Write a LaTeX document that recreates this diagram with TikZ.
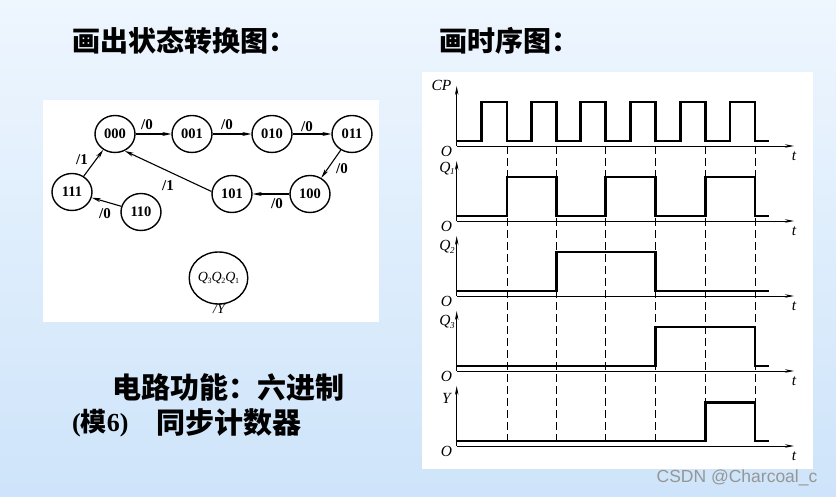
\documentclass[tikz,border=0pt]{standalone}
\usepackage{fontspec}
\setmainfont{Liberation Serif}
\newfontfamily\cjk{Noto Sans CJK SC}
\newfontfamily\wmfont{Liberation Sans}
\usetikzlibrary{arrows.meta,shapes.geometric}
\definecolor{bgtop}{RGB}{238,246,254}
\definecolor{bgbot}{RGB}{206,228,250}
\definecolor{wmgray}{RGB}{150,150,150}
\newcommand\qsub[2][9]{\textit{Q}\kern-0.3pt\raisebox{-2.5pt}{\fontsize{#1}{#1}\selectfont#2}}
\tikzset{
  st/.style={ellipse,draw,line width=1.4pt,minimum width=40pt,minimum height=37pt,inner sep=0pt,font=\fontsize{14.5}{14.5}\selectfont\bfseries},
  tr/.style={line width=1.1pt,-{Stealth[length=9pt,width=4pt]}},
  lab/.style={font=\fontsize{15}{15}\selectfont\bfseries,inner sep=0pt},
  ttl/.style={font=\cjk\bfseries\fontsize{28}{28}\selectfont,inner sep=0pt,anchor=west},
  ftx/.style={font=\cjk\bfseries\fontsize{29}{29}\selectfont,inner sep=0pt,anchor=west},
  axisln/.style={line width=0.8pt,-{Stealth[length=9pt,width=3.5pt]}},
  sig/.style={line width=2.3pt,line join=miter},
  dsh/.style={line width=0.8pt,dash pattern=on 8pt off 4pt},
  tlab/.style={font=\fontsize{15.5}{15.5}\selectfont\itshape,inner sep=0pt},
}
\begin{document}
\begin{tikzpicture}[x=1pt,y=-1pt]
\useasboundingbox (0,0) rectangle (836,497);
\shade[top color=bgtop,bottom color=bgbot] (0,0) rectangle (836,497);
% white panels
\fill[white] (43,100) rectangle (379,322);
\fill[white] (422,72) rectangle (813,469);
% titles
\node[ttl] (t1) at (72,41) {画出状态转换图：};
\node[ttl] (t2) at (439,41) {画时序图：};
\node[ftx] (f1) at (112,388) {电路功能：六进制};
\node[ftx,font=\cjk\bfseries\fontsize{26}{26}\selectfont] (f2a) at (72,423) {{\rmfamily (}模{\rmfamily 6)}};
\node[ftx] (f2b) at (156,423) {同步计数器};
% state diagram
\node[st] (n000) at (115,134) {000};
\node[st] (n001) at (192,134) {001};
\node[st] (n010) at (272,134) {010};
\node[st] (n011) at (352,134) {011};
\node[st] (n100) at (310,194) {100};
\node[st] (n101) at (232,194) {101};
\node[st] (n111) at (72,192) {111};
\node[st] (n110) at (141,212) {110};
\node[ellipse,draw,line width=1.4pt,minimum width=54pt,minimum height=52pt,inner sep=0pt,font=\fontsize{14}{14}\selectfont] (nq) at (218.5,278) {\qsub[8]{3}\qsub[8]{2}\qsub[8]{1}};
\node[lab,font=\fontsize{14}{14}\selectfont\itshape] (ly) at (219,309) {/Y};
\draw[tr] (n000) -- (n001);
\draw[tr] (n001) -- (n010);
\draw[tr] (n010) -- (n011);
\draw[tr] (n011) -- (n100);
\draw[tr] (n100) -- (n101);
\draw[tr] (n101.173) -- (n000.-60);
\draw[tr] (n110) -- (n111);
\draw[tr] (n111) -- (n000);
\node[lab] (l1) at (147,125) {/0};
\node[lab] (l2) at (227,125) {/0};
\node[lab] (l3) at (307,126.5) {/0};
\node[lab] (l4) at (342,168.5) {/0};
\node[lab] (l5) at (277,203.5) {/0};
\node[lab] (l6) at (168,185.5) {/1};
\node[lab] (l7) at (105,214) {/0};
\node[lab] (l8) at (82,160) {/1};
% timing diagram
\foreach \b in {146,221,296,371,446}{
  \draw[axisln] (456.7,\b) -- (794,\b);
  \draw[axisln] (456.7,\b) -- (456.7,\b-60);
  \node[tlab] at (446.5,\b+5) {O};
  \node[tlab] at (794,\b+10.5) {t};
}
\node[tlab] (lcp) at (441.5,85.5) {CP};
\node[tlab] (lq1) at (447,168.5) {\qsub{1}};
\node[tlab] (lq2) at (447,247) {\qsub{2}};
\node[tlab] (lq3) at (447,322) {\qsub{3}};
\node[tlab] (lyy) at (446.5,398.5) {Y};
\foreach \x in {507,556.5,605.5,655.5,705.5,755}{
  \draw[dsh] (\x,146) -- (\x,446);
}
\draw[sig] (456.7,141) -- (481.5,141) -- (481.5,102) -- (507,102) -- (507,141)
  -- (531.5,141) -- (531.5,102) -- (556.5,102) -- (556.5,141)
  -- (580.5,141) -- (580.5,102) -- (605.5,102) -- (605.5,141)
  -- (630.5,141) -- (630.5,102) -- (655.5,102) -- (655.5,141)
  -- (680.5,141) -- (680.5,102) -- (705.5,102) -- (705.5,141)
  -- (730,141) -- (730,102) -- (755,102) -- (755,141) -- (769,141);
\draw[sig] (456.7,216) -- (507,216) -- (507,177) -- (556.5,177) -- (556.5,216)
  -- (605.5,216) -- (605.5,177) -- (655.5,177) -- (655.5,216)
  -- (705.5,216) -- (705.5,177) -- (755,177) -- (755,216) -- (769,216);
\draw[sig] (456.7,291) -- (556.5,291) -- (556.5,252) -- (655.5,252) -- (655.5,291) -- (769,291);
\draw[sig] (456.7,366) -- (655.5,366) -- (655.5,327) -- (755,327) -- (755,366) -- (769,366);
\draw[sig] (456.7,441) -- (705.5,441) -- (705.5,402.5) -- (755,402.5) -- (755,441) -- (769,441);
% watermark
\node[font=\wmfont\fontsize{17.5}{17.5}\selectfont,text=wmgray,inner sep=0pt] (wm) at (737,477.5) {CSDN @Charcoal\_c};
\end{tikzpicture}
\end{document}
